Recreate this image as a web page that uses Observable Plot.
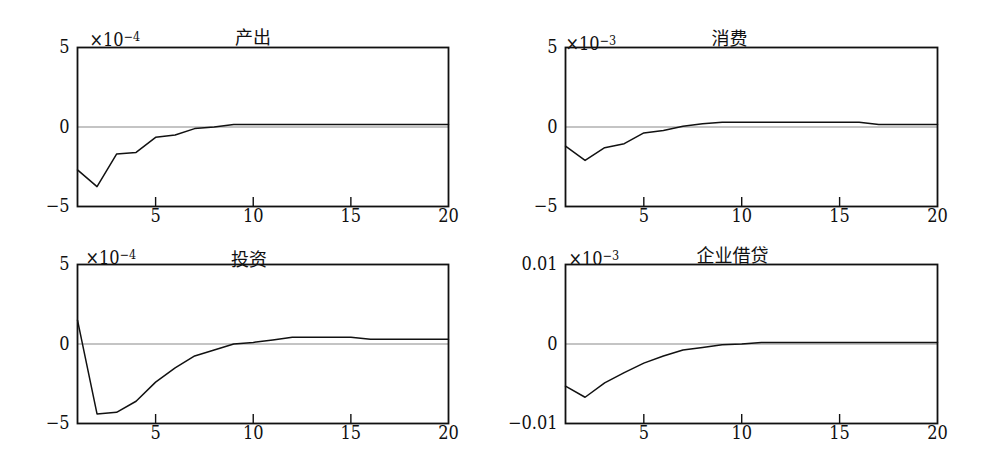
<!DOCTYPE html>
<html>
<head>
<meta charset="utf-8">
<script src="https://cdn.jsdelivr.net/npm/d3@7"></script>
<script src="https://cdn.jsdelivr.net/npm/@observablehq/plot@0.6"></script>
<style>
  html, body { margin: 0; padding: 0; background: #fff; }
  #chart { position: relative; width: 1001px; height: 461px; background: #fff; }
  #chart svg { position: absolute; overflow: visible; }
</style>
</head>
<body>
<div id="chart"></div>
<script>
// Periods (x axis)
const periods = [1,2,3,4,5,6,7,8,9,10,11,12,13,14,15,16,17,18,19,20];
const xTicks = [5, 10, 15, 20];

// Panel titles and multipliers
const titles = ["产出", "消费", "投资", "企业借贷"];
const exponents = ["−4", "−3", "−4", "−3"];

// Series values (in displayed units)
const output = [-2.7,-3.75,-1.7,-1.6,-0.65,-0.5,-0.1,0,0.15,0.15,0.15,0.15,0.15,0.15,0.15,0.15,0.15,0.15,0.15,0.15];
const consumption = [-1.2,-2.1,-1.3,-1.05,-0.37,-0.22,0.05,0.2,0.3,0.3,0.3,0.3,0.3,0.3,0.3,0.3,0.15,0.15,0.15,0.15];
const investment = [1.5,-4.4,-4.3,-3.6,-2.4,-1.5,-0.75,-0.38,0,0.1,0.25,0.42,0.42,0.42,0.42,0.3,0.3,0.3,0.3,0.3];
const loans = [-0.0053,-0.0067,-0.0049,-0.0036,-0.0024,-0.0015,-0.00075,-0.00045,-0.0001,0,0.0002,0.0002,0.0002,0.0002,0.0002,0.0002,0.0002,0.0002,0.0002,0.0002];

// y axis domains and ticks
const yDomains = [[-5,5],[-5,5],[-5,5],[-0.01,0.01]];
const yTicks = [[-5,0,5],[-5,0,5],[-5,0,5],[-0.01,0,0.01]];
const seriesList = [output, consumption, investment, loans];

const serif = '"DejaVu Serif Condensed", "DejaVu Serif"';
const cjk = "Noto Sans CJK SC";

// layout of each panel (svg box + margins)
const layouts = [
  {left: 0,   top: 0,   width: 500, height: 230, ml: 77, mr: 52, mt: 47, mb: 24, tdx: -10, tdy: -16, mdx: 12, mdy: -14},
  {left: 500, top: 0,   width: 501, height: 230, ml: 65, mr: 64, mt: 47, mb: 24, tdx: -22, tdy: -15, mdx: 0,  mdy: -10},
  {left: 0,   top: 230, width: 500, height: 231, ml: 77, mr: 52, mt: 34, mb: 38, tdx: -14, tdy: -11, mdx: 8,  mdy: -13},
  {left: 500, top: 230, width: 501, height: 231, ml: 65, mr: 64, mt: 34, mb: 38, tdx: -19, tdy: -15, mdx: 3,  mdy: -12}
];

const container = document.getElementById("chart");

seriesList.forEach((series, i) => {
  const L = layouts[i];
  const data = periods.map((p, j) => ({period: p, value: series[j]}));
  const frameH = L.height - L.mt - L.mb;
  const svg = Plot.plot({
    width: L.width,
    height: L.height,
    marginLeft: L.ml,
    marginRight: L.mr,
    marginTop: L.mt,
    marginBottom: L.mb,
    style: {background: "transparent", overflow: "visible", color: "#111", fontFamily: serif, fontSize: "17px"},
    x: {domain: [1, 20]},
    y: {domain: yDomains[i]},
    marks: [
      Plot.ruleY([0], {stroke: "#8a8a8a", strokeWidth: 1.2}),
      Plot.ruleX(xTicks.slice(0, 3), {x: d => d, stroke: "#111", strokeWidth: 1.4, insetTop: frameH - 9}),
      Plot.line(data, {x: "period", y: "value", stroke: "#111", strokeWidth: 1.5}),
      Plot.frame({stroke: "#111", strokeWidth: 1.8}),
      Plot.axisX(xTicks, {tickSize: 0, tickPadding: 3, label: null, fontSize: 18, fontFamily: serif}),
      Plot.axisY(yTicks[i], {tickSize: 0, tickPadding: 8, label: null, fontSize: 18, fontFamily: serif,
        tickFormat: d => d === 0 ? "0" : (d < 0 ? "−" : "") + String(Math.abs(d))}),
      Plot.text([titles[i]], {text: d => d, frameAnchor: "top", dx: L.tdx, dy: L.tdy,
        fontFamily: cjk, fontSize: 18, fill: "#111"}),
      Plot.text(["×10"], {text: d => d, frameAnchor: "top-left", textAnchor: "start",
        dx: L.mdx, dy: L.mdy, fontSize: 18, fontFamily: serif, fill: "#111"})
    ]
  });
  // attach the exponent as a superscript tspan of the "×10" label
  d3.select(svg).selectAll("text")
    .filter(function() { return this.textContent === "×10"; })
    .append("tspan")
    .attr("dy", "-0.45em")
    .attr("font-size", 12.5)
    .text(exponents[i]);
  svg.style.left = L.left + "px";
  svg.style.top = L.top + "px";
  container.appendChild(svg);
});
</script>
</body>
</html>
